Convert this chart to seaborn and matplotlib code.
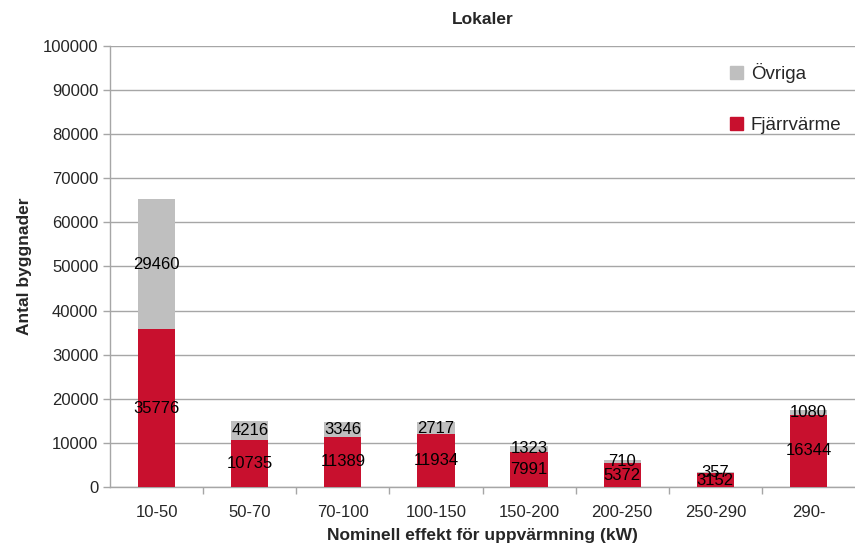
import pandas as pd
import matplotlib.pyplot as plt
import seaborn as sns
from matplotlib.patches import Patch

sns.set_theme(style="white")
plt.rcParams['font.family'] = ['Liberation Sans', 'DejaVu Sans']

# data
kategorier = ['10-50', '50-70', '70-100', '100-150', '150-200', '200-250', '250-290', '290-']
fjarrvarme = [35776, 10735, 11389, 11934, 7991, 5372, 3152, 16344]
ovriga = [29460, 4216, 3346, 2717, 1323, 710, 357, 1080]

df = pd.DataFrame({'Kategori': kategorier, 'Fjärrvärme': fjarrvarme, 'Övriga': ovriga})
df['Totalt'] = df['Fjärrvärme'] + df['Övriga']

rod = '#C8102E'
gra = '#BFBFBF'

fig = plt.figure(figsize=(8.55, 5.51), dpi=100)
ax = fig.add_axes([0.1287, 0.1162, 0.8713, 0.8003])

# grey total first, red part over it
sns.barplot(data=df, x='Kategori', y='Totalt', color=gra, width=0.4, saturation=1,
            linewidth=0, edgecolor='none', ax=ax, zorder=3)
sns.barplot(data=df, x='Kategori', y='Fjärrvärme', color=rod, width=0.4, saturation=1,
            linewidth=0, edgecolor='none', ax=ax, zorder=3)

# labels centred in each segment
for i, (f, o) in enumerate(zip(fjarrvarme, ovriga)):
    ax.text(i, f / 2, str(f), ha='center', va='center', fontsize=12, color='black', zorder=5)
    ax.text(i, f + o / 2, str(o), ha='center', va='center', fontsize=12, color='black', zorder=5)

ax.set_ylim(0, 100000)
ax.set_xlim(-0.5, len(kategorier) - 0.5)
ax.set_yticks(range(0, 100001, 10000))
ax.yaxis.grid(True, color='#A6A6A6', linewidth=1)
ax.set_axisbelow(True)

# tick marks between categories like Excel
ax.set_xticks(range(len(kategorier)))
ax.set_xticklabels(kategorier, fontsize=12)
ax.set_xticks([i + 0.5 for i in range(len(kategorier) - 1)], minor=True)
ax.tick_params(axis='x', which='major', length=0, pad=13)
ax.tick_params(axis='x', which='minor', length=5, color='#A6A6A6', width=1)
ax.tick_params(axis='y', length=5, color='#A6A6A6', width=1, labelsize=12)
ax.tick_params(left=True, bottom=True, which='both')

for s in ['top', 'right']:
    ax.spines[s].set_visible(False)
for s in ['left', 'bottom']:
    ax.spines[s].set_color('#A6A6A6')
    ax.spines[s].set_linewidth(1)

ax.set_title('Lokaler', fontsize=12.5, fontweight='bold', pad=16)
ax.set_xlabel('Nominell effekt för uppvärmning (kW)', fontsize=12.5, fontweight='bold', labelpad=6)
ax.set_ylabel('Antal byggnader', fontsize=12.5, fontweight='bold', labelpad=8)

handles = [Patch(color=gra, label='Övriga'), Patch(color=rod, label='Fjärrvärme')]
ax.legend(handles=handles, loc='upper left', bbox_to_anchor=(0.81, 1.0), frameon=False,
          fontsize=13.5, handlelength=0.7, handleheight=0.7, handletextpad=0.4, labelspacing=1.8)

plt.savefig('out.png', dpi=100)
